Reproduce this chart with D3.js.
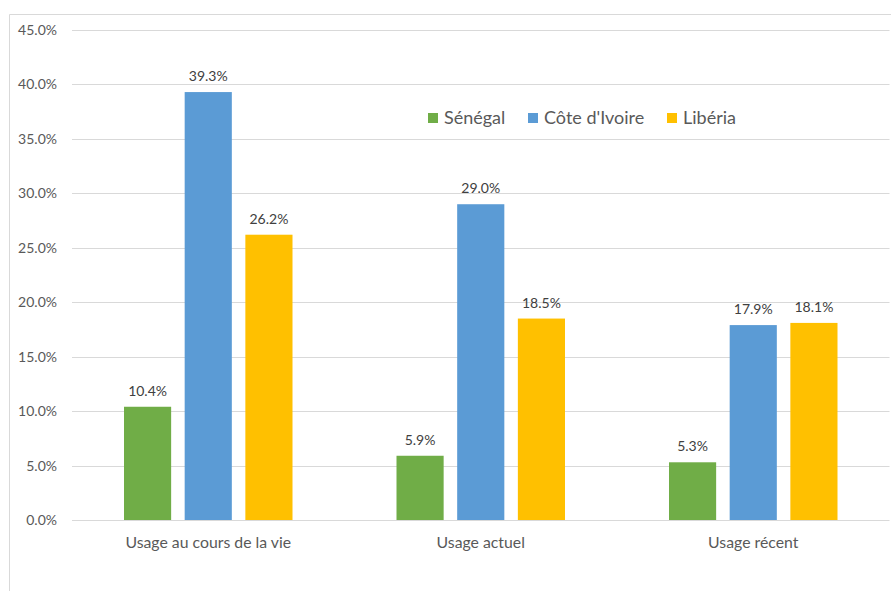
<!DOCTYPE html>
<html>
<head>
<meta charset="utf-8">
<script src="https://cdn.jsdelivr.net/npm/d3@7"></script>
<style>
  html, body { margin: 0; padding: 0; background: #fff; }
  svg { display: block; font-family: Lato, "Open Sans", sans-serif; }
</style>
</head>
<body>
<svg id="chart" width="891" height="591"></svg>
<script>
// Usage rates by country (percent)
const categories = ["Usage au cours de la vie", "Usage actuel", "Usage récent"];
const seriesNames = ["Sénégal", "Côte d'Ivoire", "Libéria"];
const senegal = [10.4, 5.9, 5.3];
const coteIvoire = [39.3, 29.0, 17.9];
const liberia = [26.2, 18.5, 18.1];
const seriesColors = ["#70AD47", "#5B9BD5", "#FFC000"];
const yTicks = [0, 5, 10, 15, 20, 25, 30, 35, 40, 45];

const seriesValues = [senegal, coteIvoire, liberia];

const svg = d3.select("#chart");
const W = 891, H = 591;
const plot = { left: 72, right: 889.5, top: 30, bottom: 520 };

// chart frame (left and top edges visible)
svg.append("path")
  .attr("d", `M9.5,${H} V14.5 H${W}`)
  .attr("fill", "none")
  .attr("stroke", "#D9D9D9")
  .attr("stroke-width", 1);

const y = d3.scaleLinear().domain([0, 45]).range([plot.bottom, plot.top]);
const x0 = d3.scaleBand().domain(categories).range([plot.left, plot.right]).padding(0);
const groupPad = 52;
const x1 = d3.scaleBand().domain(seriesNames)
  .range([groupPad, x0.bandwidth() - groupPad])
  .paddingInner(0.223).paddingOuter(0);

// horizontal gridlines
svg.append("g")
  .selectAll("line")
  .data(yTicks)
  .join("line")
  .attr("x1", plot.left)
  .attr("x2", plot.right)
  .attr("y1", d => Math.round(y(d)) + 0.5)
  .attr("y2", d => Math.round(y(d)) + 0.5)
  .attr("stroke", "#D9D9D9")
  .attr("stroke-width", 1);

// y axis tick labels
const yAxis = d3.axisLeft(y).tickValues(yTicks)
  .tickFormat(d => d.toFixed(1) + "%").tickSize(0).tickPadding(15);
const yg = svg.append("g").attr("transform", `translate(${plot.left},0)`).call(yAxis);
yg.select(".domain").remove();
yg.selectAll("text")
  .attr("fill", "#595959")
  .style("font-family", "Lato, sans-serif")
  .style("font-size", "14px");

// bars
const groups = svg.append("g")
  .selectAll("g")
  .data(categories)
  .join("g")
  .attr("transform", d => `translate(${x0(d)},0)`);

groups.each(function(cat, ci) {
  const g = d3.select(this);
  const rows = seriesNames.map((s, si) => ({ s, si, v: seriesValues[si][ci] }));
  g.selectAll("rect")
    .data(rows)
    .join("rect")
    .attr("x", d => x1(d.s))
    .attr("y", d => y(d.v))
    .attr("width", x1.bandwidth())
    .attr("height", d => y(0) - y(d.v))
    .attr("fill", d => seriesColors[d.si]);
  g.selectAll("text")
    .data(rows)
    .join("text")
    .attr("x", d => x1(d.s) + x1.bandwidth() / 2)
    .attr("y", d => y(d.v) - 11)
    .attr("text-anchor", "middle")
    .attr("fill", "#404040")
    .style("font-size", "14px")
    .text(d => d.v.toFixed(1) + "%");
});

// category axis labels
const xAxis = d3.axisBottom(x0).tickSize(0).tickPadding(17);
const xg = svg.append("g").attr("transform", `translate(0,${plot.bottom})`).call(xAxis);
xg.select(".domain").remove();
xg.selectAll("text")
  .attr("fill", "#595959")
  .style("font-family", "Lato, sans-serif")
  .style("font-size", "15.8px");

// legend
const legendX = [428, 528, 667];
const legend = svg.append("g")
  .selectAll("g")
  .data(seriesNames)
  .join("g")
  .attr("transform", (d, i) => `translate(${legendX[i]},113)`);
legend.append("rect")
  .attr("width", 10).attr("height", 10)
  .attr("fill", (d, i) => seriesColors[i]);
legend.append("text")
  .attr("x", 16).attr("y", 11)
  .attr("fill", "#595959")
  .style("font-size", "18px")
  .text(d => d);
</script>
</body>
</html>
